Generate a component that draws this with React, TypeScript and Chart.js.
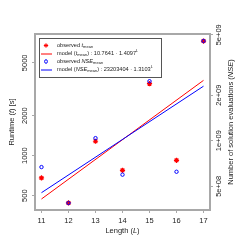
import React, { useEffect, useRef } from "react";
import { Chart, registerables } from "chart.js";
Chart.register(...registerables);

const lengths = [11, 12, 13, 14, 15, 16, 17];
const runtimeMean = [680, 441, 1284, 776, 3483, 923, 7295];
const nseMean = [6.7e8, 3.88e8, 1.04e9, 5.97e8, 2.47e9, 6.24e8, 4.55e9];
const modelLengths = [11, 17];
const runtimeModel = [472, 3690];
const nseModel = [4.54e8, 2.29e9];
const xTicks = [11, 12, 13, 14, 15, 16, 17];
const runtimeTicks = [500, 1000, 2000, 5000];
const nseTicks = [5e8, 1e9, 2e9, 5e9];
const nseTickLabels = ["5e+08", "1e+09", "2e+09", "5e+09"];

const FONT = '"Liberation Sans", Arial, Helvetica, sans-serif';
const FRAME = "#a8a8a8";
const TXT = "#222222";

type Seg = { t: string; i?: boolean; sub?: boolean; sup?: boolean };

function segFont(s: Seg, size: number) {
  const sz = s.sub || s.sup ? size * 0.72 : size;
  return `${s.i ? "italic " : ""}${sz}px ${FONT}`;
}

function drawRich(ctx: CanvasRenderingContext2D, segs: Seg[], x: number, y: number, size: number, align: "left" | "center") {
  let total = 0;
  const ws = segs.map((s) => {
    ctx.font = segFont(s, size);
    const w = ctx.measureText(s.t).width;
    total += w;
    return w;
  });
  let cx = align === "center" ? x - total / 2 : x;
  ctx.textAlign = "left";
  ctx.textBaseline = "middle";
  segs.forEach((s, k) => {
    ctx.font = segFont(s, size);
    const dy = s.sub ? size * 0.3 : s.sup ? -size * 0.38 : 0;
    ctx.fillText(s.t, cx, y + dy);
    cx += ws[k];
  });
}

const legendRows: { segs: Seg[]; ds: number; kind: "star" | "line" | "circle" }[] = [
  { segs: [{ t: "observed " }, { t: "t", i: true }, { t: "mean", sub: true }], ds: 0, kind: "star" },
  {
    segs: [{ t: "model (" }, { t: "t", i: true }, { t: "mean", sub: true }, { t: ") : 10.7641 \u00b7 1.4097" }, { t: "L", i: true, sup: true }],
    ds: 1,
    kind: "line",
  },
  { segs: [{ t: "observed " }, { t: "NSE", i: true }, { t: "mean", sub: true }], ds: 2, kind: "circle" },
  {
    segs: [{ t: "model (" }, { t: "NSE", i: true }, { t: "mean", sub: true }, { t: ") : 23203404 \u00b7 1.3103" }, { t: "L", i: true, sup: true }],
    ds: 3,
    kind: "line",
  },
];

const decorPlugin = {
  id: "decor",
  afterDraw(chart: any) {
    const ctx: CanvasRenderingContext2D = chart.ctx;
    const a = chart.chartArea;
    ctx.save();
    // frame
    ctx.strokeStyle = FRAME;
    ctx.lineWidth = 2;
    ctx.strokeRect(a.left, a.top, a.right - a.left, a.bottom - a.top);

    // axis titles
    ctx.fillStyle = TXT;
    const midY = (a.top + a.bottom) / 2;
    drawRich(ctx, [{ t: "Length (" }, { t: "L", i: true }, { t: ")" }], (a.left + a.right) / 2, 231, 7.5, "center");
    ctx.save();
    ctx.translate(11.5, midY);
    ctx.rotate(-Math.PI / 2);
    drawRich(ctx, [{ t: "Runtime (" }, { t: "t", i: true }, { t: ") [s]" }], 0, 0, 7.5, "center");
    ctx.restore();
    ctx.save();
    ctx.translate(231, midY);
    ctx.rotate(-Math.PI / 2);
    drawRich(ctx, [{ t: "Number of solution evaluations (" }, { t: "NSE", i: true }, { t: ")" }], 0, 0, 7.5, "center");
    ctx.restore();

    // legend
    const bx = a.left + 4;
    const by = a.top + 4;
    const bw = 122;
    const bh = 39;
    ctx.fillStyle = "#ffffff";
    ctx.fillRect(bx, by, bw, bh);
    ctx.strokeStyle = "#555555";
    ctx.lineWidth = 1;
    ctx.strokeRect(bx + 0.5, by + 0.5, bw, bh);
    legendRows.forEach((row, k) => {
      const y = by + 7.5 + k * 8;
      const ds = chart.data.datasets[row.ds];
      const sx = bx + 7;
      if (row.kind === "line") {
        ctx.strokeStyle = ds.borderColor;
        ctx.lineWidth = 1;
        ctx.beginPath();
        ctx.moveTo(bx + 2, y + 0.5);
        ctx.lineTo(bx + 13, y + 0.5);
        ctx.stroke();
      } else if (row.kind === "star") {
        ctx.strokeStyle = ds.borderColor;
        ctx.lineWidth = 1;
        const r = 2.2;
        ctx.beginPath();
        for (let j = 0; j < 4; j++) {
          const ang = (j * Math.PI) / 4;
          ctx.moveTo(sx - r * Math.cos(ang), y - r * Math.sin(ang));
          ctx.lineTo(sx + r * Math.cos(ang), y + r * Math.sin(ang));
        }
        ctx.stroke();
      } else {
        ctx.strokeStyle = ds.borderColor;
        ctx.lineWidth = 1;
        ctx.beginPath();
        ctx.ellipse(sx, y, 1.4, 1.8, 0, 0, Math.PI * 2);
        ctx.stroke();
      }
      ctx.fillStyle = TXT;
      drawRich(ctx, row.segs, bx + 18, y, 5.6, "left");
    });
    ctx.restore();
  },
};

export default function App() {
  const ref = useRef<HTMLCanvasElement | null>(null);
  useEffect(() => {
    if (!ref.current) return;
    const tickFont = { family: FONT, size: 7.5 };
    const chart = new Chart(ref.current, {
      type: "scatter",
      data: {
        datasets: [
          {
            label: "observed t_mean",
            data: lengths.map((x, k) => ({ x, y: runtimeMean[k] })),
            yAxisID: "y",
            pointStyle: "star",
            pointRadius: 2.6,
            borderColor: "#ff0000",
            backgroundColor: "#ff0000",
            borderWidth: 1.2,
            order: 1,
          },
          {
            label: "model t_mean",
            data: modelLengths.map((x, k) => ({ x, y: runtimeModel[k] })),
            yAxisID: "y",
            showLine: true,
            pointRadius: 0,
            borderColor: "#ff0000",
            borderWidth: 1,
            order: 3,
          },
          {
            label: "observed NSE_mean",
            data: lengths.map((x, k) => ({ x, y: nseMean[k] })),
            yAxisID: "y2",
            pointStyle: "circle",
            pointRadius: 1.7,
            borderColor: "#0000ff",
            backgroundColor: "rgba(0,0,0,0)",
            borderWidth: 1,
            order: 0,
          },
          {
            label: "model NSE_mean",
            data: modelLengths.map((x, k) => ({ x, y: nseModel[k] })),
            yAxisID: "y2",
            showLine: true,
            pointRadius: 0,
            borderColor: "#0000ff",
            borderWidth: 1,
            order: 2,
          },
        ],
      },
      options: {
        animation: false,
        responsive: false,
        layout: { padding: { top: 34, left: 0, right: 0, bottom: 0 } },
        plugins: { legend: { display: false }, tooltip: { enabled: false } },
        scales: {
          x: {
            type: "linear",
            position: "bottom",
            min: 10.76,
            max: 17.24,
            afterFit: (s: any) => {
              s.height = 35;
            },
            afterBuildTicks: (s: any) => {
              s.ticks = xTicks.map((v) => ({ value: v }));
            },
            ticks: { font: tickFont, color: TXT, padding: 3, maxRotation: 0, callback: (v: any) => String(v) },
            grid: { drawOnChartArea: false, drawTicks: true, tickLength: 3, color: FRAME, lineWidth: 1 },
            border: { display: false },
          },
          y: {
            type: "logarithmic",
            position: "left",
            min: 390,
            max: 8240,
            afterFit: (s: any) => {
              s.width = 35;
            },
            afterBuildTicks: (s: any) => {
              s.ticks = runtimeTicks.map((v) => ({ value: v }));
            },
            ticks: {
              font: tickFont,
              color: TXT,
              minRotation: 90,
              maxRotation: 90,
              crossAlign: "center",
              padding: -1,
              callback: (v: any) => String(v),
            },
            grid: { drawOnChartArea: false, drawTicks: true, tickLength: 3, color: FRAME, lineWidth: 1 },
            border: { display: false },
          },
          y2: {
            type: "logarithmic",
            position: "right",
            min: 3.49e8,
            max: 5.06e9,
            afterFit: (s: any) => {
              s.width = 35;
            },
            afterBuildTicks: (s: any) => {
              s.ticks = nseTicks.map((v) => ({ value: v }));
            },
            ticks: {
              font: tickFont,
              color: TXT,
              minRotation: 90,
              maxRotation: 90,
              crossAlign: "center",
              padding: -4.5,
              callback: (v: any) => {
                const k = nseTicks.findIndex((t) => Math.abs(t - v) / t < 1e-6);
                return k >= 0 ? nseTickLabels[k] : "";
              },
            },
            grid: { drawOnChartArea: false, drawTicks: true, tickLength: 3, color: FRAME, lineWidth: 1 },
            border: { display: false },
          },
        },
      } as any,
      plugins: [decorPlugin],
    });
    return () => chart.destroy();
  }, []);
  return (
    <div style={{ position: "fixed", left: 0, top: 0, width: 245, height: 245, background: "#fff" }}>
      <canvas ref={ref} width={245} height={245} style={{ width: 245, height: 245, display: "block" }} />
    </div>
  );
}
